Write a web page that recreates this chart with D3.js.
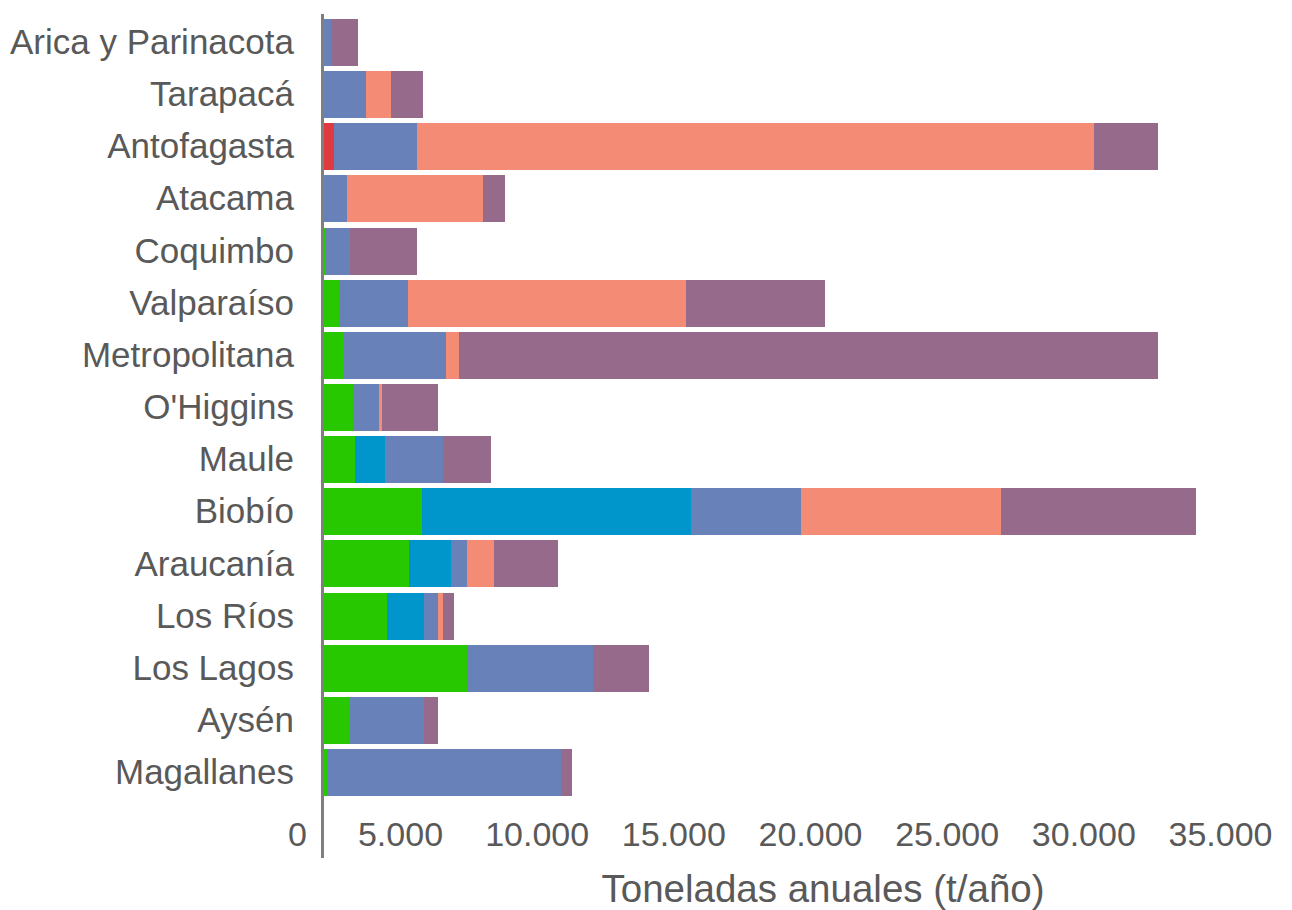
<!DOCTYPE html>
<html>
<head>
<meta charset="utf-8">
<script src="https://cdn.jsdelivr.net/npm/d3@7"></script>
<style>
  body { margin: 0; background: #fff; }
  svg { display: block; }
  text { font-family: "Liberation Sans", Arial, sans-serif; fill: #595959; }
</style>
</head>
<body>
<svg id="chart" width="1292" height="910"></svg>
<script>
// Regiones, de norte a sur
const regiones = ["Arica y Parinacota", "Tarapacá", "Antofagasta", "Atacama", "Coquimbo",
  "Valparaíso", "Metropolitana", "O'Higgins", "Maule", "Biobío", "Araucanía",
  "Los Ríos", "Los Lagos", "Aysén", "Magallanes"];

// Toneladas anuales por serie (en orden de apilado, de izquierda a derecha)
const serieRoja    = [0, 0, 410, 0, 0, 0, 0, 0, 0, 0, 0, 0, 0, 0, 0];
const serieVerde   = [0, 0, 0, 0, 80, 590, 770, 1130, 1210, 3830, 3320, 2460, 5590, 1000, 160];
const serieCeleste = [0, 0, 0, 0, 0, 0, 0, 0, 1170, 10510, 1640, 1450, 0, 0, 0];
const serieAzul    = [270, 1660, 3210, 900, 940, 2700, 4000, 1020, 2270, 4300, 630, 550, 4920, 2900, 9100];
const serieSalmon  = [0, 940, 26460, 5310, 0, 10860, 510, 120, 0, 7810, 1060, 200, 0, 0, 0];
const serieMorada  = [1060, 1250, 2500, 860, 2620, 5430, 27300, 2190, 1880, 7600, 2500, 430, 2190, 550, 430];

const series = ["roja", "verde", "celeste", "azul", "salmon", "morada"];
const colores = ["#de3a40", "#28c800", "#0096cb", "#6881b8", "#f48b74", "#956a8a"];

const ticksX = [0, 5000, 10000, 15000, 20000, 25000, 30000, 35000];
const tituloX = "Toneladas anuales (t/año)";

const width = 1292, height = 910;
const margin = {top: 16.4, right: 72, bottom: 111.4, left: 324};

const svg = d3.select("#chart");

// Build the table d3.stack wants
const tabla = regiones.map((r, i) => ({
  region: r,
  roja: serieRoja[i],
  verde: serieVerde[i],
  celeste: serieCeleste[i],
  azul: serieAzul[i],
  salmon: serieSalmon[i],
  morada: serieMorada[i]
}));

const apilado = d3.stack().keys(series)(tabla);

const x = d3.scaleLinear().domain([0, 35000]).range([margin.left, width - margin.right]);
const y = d3.scaleBand().domain(regiones)
  .range([margin.top, height - margin.bottom])
  .paddingInner(0.1).paddingOuter(0.05);
const color = d3.scaleOrdinal().domain(series).range(colores);

// Bars
svg.append("g")
  .selectAll("g")
  .data(apilado)
  .join("g")
    .attr("fill", d => color(d.key))
  .selectAll("rect")
  .data(d => d)
  .join("rect")
    .attr("x", d => x(d[0]))
    .attr("y", d => y(d.data.region))
    .attr("width", d => x(d[1]) - x(d[0]))
    .attr("height", y.bandwidth())
    .attr("shape-rendering", "crispEdges");

// Region labels
const ejeY = svg.append("g")
  .attr("transform", `translate(${x(0)},0)`)
  .call(d3.axisLeft(y).tickSize(0).tickPadding(30));
ejeY.select(".domain").remove();
ejeY.selectAll("text")
  .attr("dy", "0.33em")
  .style("font-size", "35px")
  .style("fill", "#595959");

// Vertical axis line, runs a bit past the last bar
svg.append("line")
  .attr("x1", x(0) - 1.5).attr("x2", x(0) - 1.5)
  .attr("y1", 14).attr("y2", 858)
  .attr("stroke", "#7f7f7f")
  .attr("stroke-width", 3);

// Tick labels sit on their own spacing in the original
const xEtiqueta = d3.scaleLinear().domain([5000, 35000]).range([400, 1220]);
const ejeX = svg.append("g")
  .attr("transform", "translate(0,846)")
  .call(d3.axisBottom(xEtiqueta)
    .tickValues(ticksX)
    .tickSize(0)
    .tickPadding(0)
    .tickFormat(d => d3.format(",")(d).replace(/,/g, ".")));
ejeX.select(".domain").remove();
ejeX.selectAll("text")
  .attr("dy", 0)
  .attr("y", 0)
  .style("font-size", "34px")
  .style("fill", "#595959");
ejeX.selectAll(".tick")
  .filter(d => d === 0)
  .attr("transform", `translate(${x(0) - 17},0)`)
  .select("text")
  .attr("text-anchor", "end");

// Axis title
svg.append("text")
  .attr("x", 823)
  .attr("y", 902)
  .attr("text-anchor", "middle")
  .style("font-size", "38.5px")
  .text(tituloX);
</script>
</body>
</html>
